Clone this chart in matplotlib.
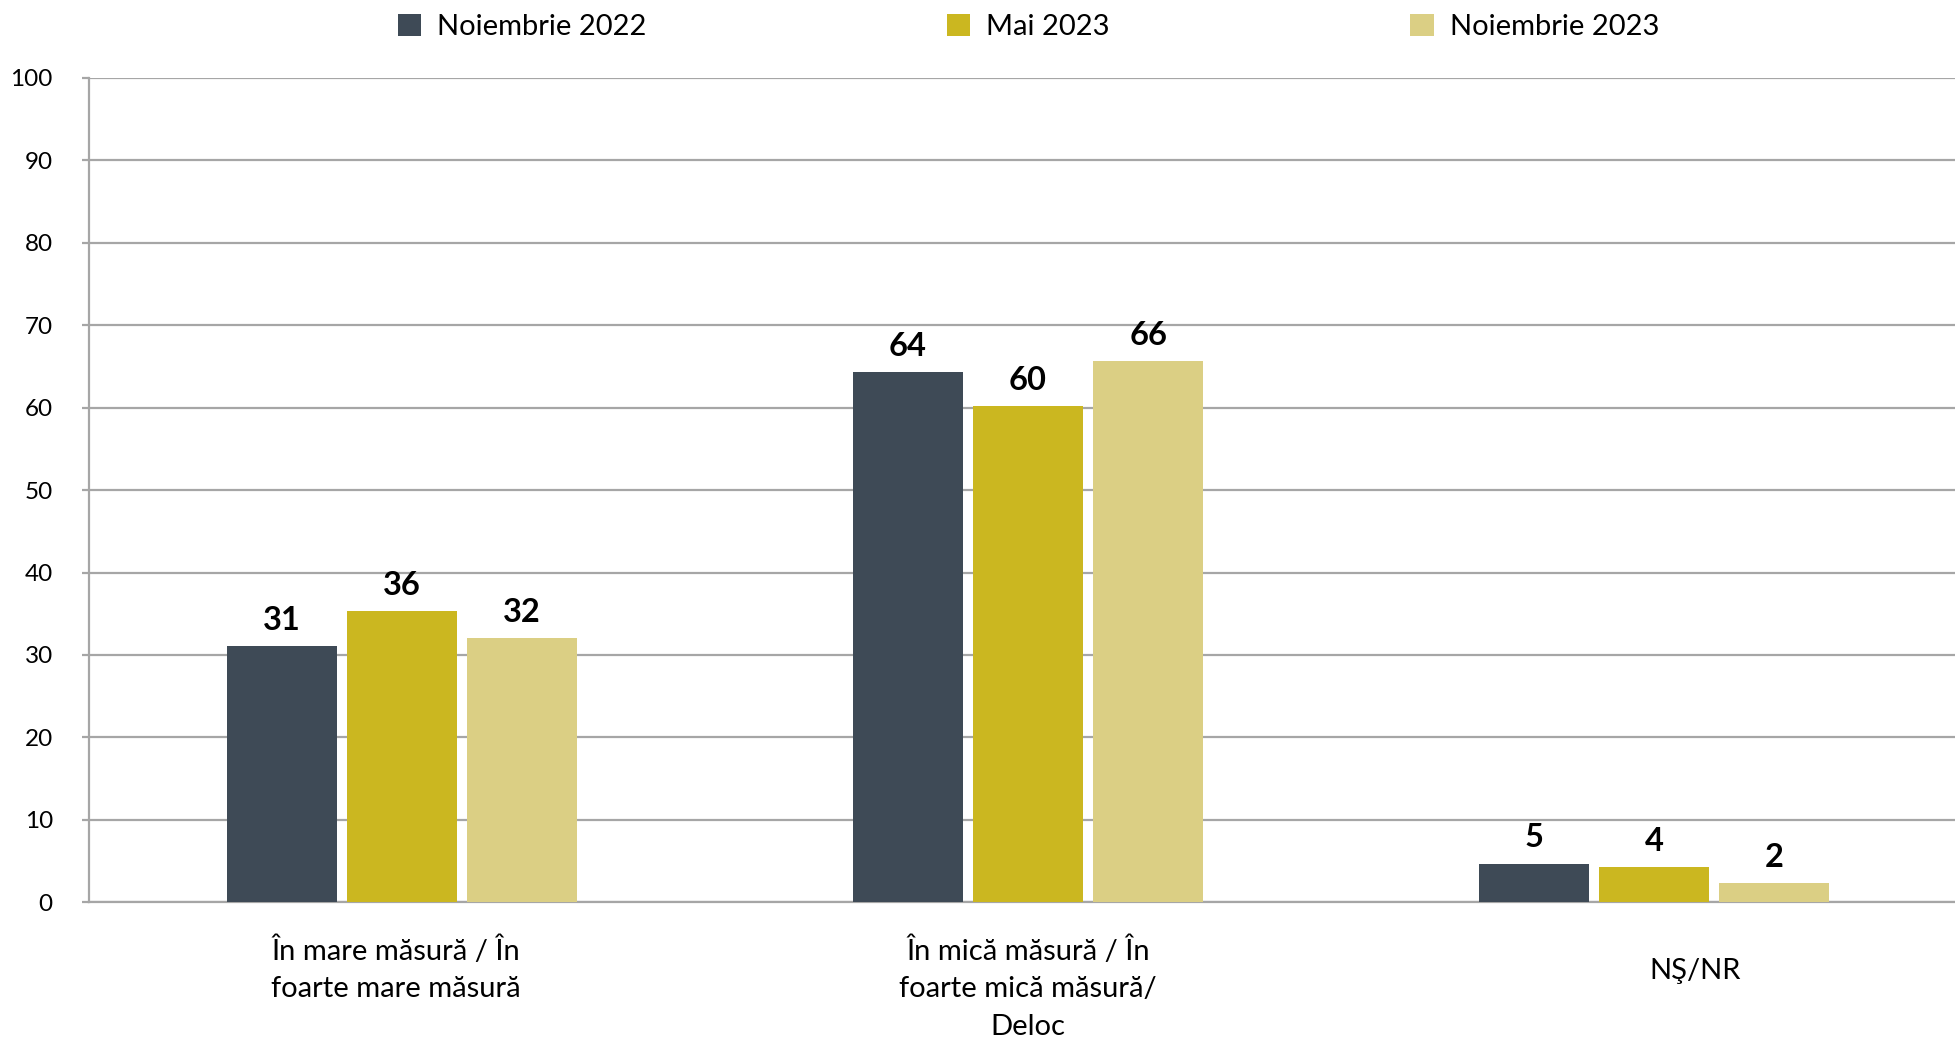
import numpy as np
import matplotlib
matplotlib.use("Agg")
import matplotlib.pyplot as plt
import matplotlib.transforms as mtransforms

plt.rcParams["font.family"] = ["Lato", "DejaVu Sans"]

# data
categories = ["În mare măsură / În\nfoarte mare măsură",
              "În mică măsură / În\nfoarte mică măsură/\nDeloc",
              "NŞ/NR"]
series = ["Noiembrie 2022", "Mai 2023", "Noiembrie 2023"]
nov_2022 = [31.1, 64.3, 4.7]
mai_2023 = [35.3, 60.2, 4.3]
nov_2023 = [32.1, 65.7, 2.35]
labels_nov_2022 = ["31", "64", "5"]
labels_mai_2023 = ["36", "60", "4"]
labels_nov_2023 = ["32", "66", "2"]
yticks = list(range(0, 101, 10))

colors = ["#3e4a56", "#cbb720", "#dbcf84"]
grid_col = "#a6a6a6"

fig = plt.figure(figsize=(19.55, 10.49), dpi=100)
ax = fig.add_axes([0.0455, 0.1399, 0.9606, 0.7858])

x = np.arange(len(categories))
width = 0.176
step = 0.192
all_vals = [nov_2022, mai_2023, nov_2023]
all_labels = [labels_nov_2022, labels_mai_2023, labels_nov_2023]
for i, (name, vals, labs, col) in enumerate(zip(series, all_vals, all_labels, colors)):
    bars = ax.bar(x + (i - 1) * step, vals, width, color=col, label=name, zorder=3)
    ax.bar_label(bars, labels=labs, padding=8, fontsize=23.5, fontweight="bold", color="black")

ax.set_xlim(-0.5, 2.5)
ax.set_ylim(0, 100)
ax.set_yticks(yticks)
ax.yaxis.grid(True, color=grid_col, linewidth=1.6, zorder=0)
ax.set_axisbelow(True)
for s in ["top", "right"]:
    ax.spines[s].set_visible(False)
ax.spines["left"].set_color(grid_col)
ax.spines["left"].set_linewidth(1.6)
ax.spines["bottom"].set_color(grid_col)
ax.spines["bottom"].set_linewidth(1.6)
ax.tick_params(axis="y", length=5, width=1.6, color=grid_col, pad=21, labelsize=17.5)
ax.tick_params(axis="x", length=0, labelbottom=False)

# category labels under the groups (the last one sits a bit right of its bars)
trans = mtransforms.blended_transform_factory(ax.transData, fig.transFigure)
label_shift = [-0.01, 0.0, 0.066]
for xi, cat, dx in zip(x, categories, label_shift):
    if "\n" in cat:
        ax.text(xi + dx, 1 - 936 / 1049, cat, transform=trans, ha="center", va="top",
                fontsize=21, linespacing=1.55)
    else:
        ax.text(xi + dx, 1 - 971 / 1049, cat, transform=trans, ha="center", va="center",
                fontsize=21)

fig.legend(loc="center", bbox_to_anchor=(0.526, 0.974), ncol=3, frameon=False,
           fontsize=21, handlelength=0.8, handleheight=0.8, handletextpad=0.55,
           columnspacing=10.3)

fig.savefig("out.png", dpi=100)
